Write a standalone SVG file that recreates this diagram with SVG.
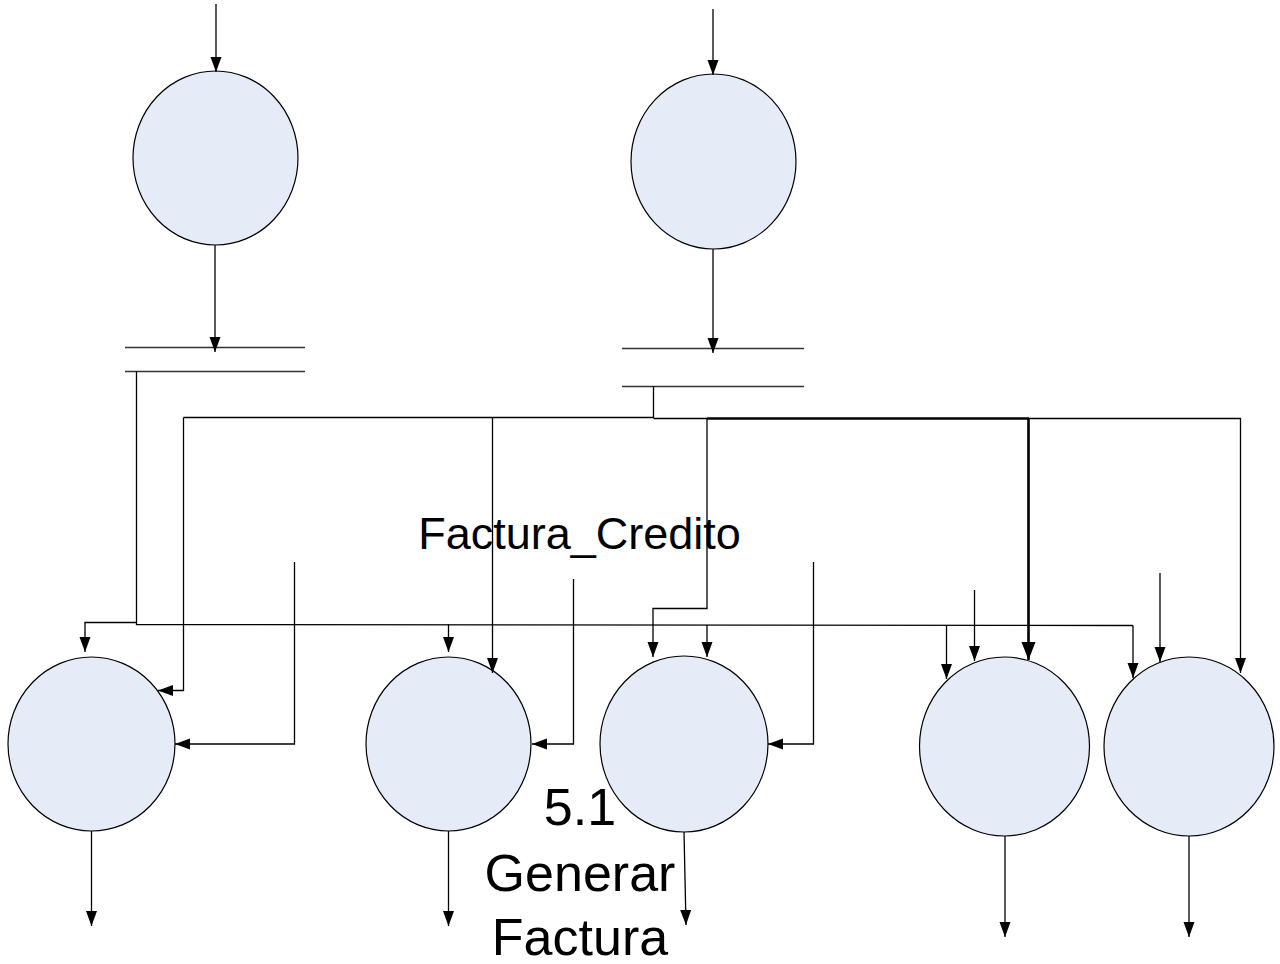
<svg xmlns="http://www.w3.org/2000/svg" width="1280" height="964" viewBox="0 0 1280 964">
  <style>
    .proc { fill: #e6ecf7; stroke: #000; stroke-width: 1.2; }
    .store { stroke: #333; stroke-width: 1.5; fill: none; }
    .flow { stroke: #000; stroke-width: 1.3; fill: none; }
    .flow-arrow { stroke: #000; stroke-width: 1.3; fill: none; marker-end: url(#arrow); }
    .flow-bold { stroke: #000; stroke-width: 2.6; fill: none; }
    .label { font-family: "Liberation Sans", Arial, sans-serif; fill: #000; text-anchor: middle; }
  </style>
  <defs>
    <marker id="arrow" markerUnits="userSpaceOnUse" markerWidth="16" markerHeight="12" refX="15" refY="5.5" orient="auto">
      <path d="M0,0 L15,5.5 L0,11 z" fill="#000"/>
    </marker>
    <marker id="arrow-bold" markerUnits="userSpaceOnUse" markerWidth="19" markerHeight="16" refX="18" refY="7" orient="auto">
      <path d="M0,0 L18,7 L0,14 z" fill="#000"/>
    </marker>
  </defs>

  <rect width="1280" height="964" fill="#fff"/>

  <!-- processes -->
  <g id="proc-top-left"><ellipse class="proc" cx="215.5" cy="158" rx="82.5" ry="87"/></g>
  <g id="proc-top-right"><ellipse class="proc" cx="713.5" cy="161.5" rx="82.5" ry="87.5"/></g>
  <g id="proc-1"><ellipse class="proc" cx="91.5" cy="744" rx="83.5" ry="87"/></g>
  <g id="proc-2"><ellipse class="proc" cx="448.5" cy="744" rx="82.5" ry="87"/></g>
  <g id="proc-3"><ellipse class="proc" cx="684" cy="744" rx="84" ry="88"/></g>
  <g id="proc-4"><ellipse class="proc" cx="1004.5" cy="746.5" rx="85" ry="89.5"/></g>
  <g id="proc-5"><ellipse class="proc" cx="1189" cy="746.5" rx="85" ry="89.5"/></g>

  <!-- data stores -->
  <g id="store-left">
    <line class="store" x1="125" y1="347.5" x2="305" y2="347.5"/>
    <line class="store" x1="125" y1="371.5" x2="305" y2="371.5"/>
  </g>
  <g id="store-right">
    <line class="store" x1="622" y1="348.5" x2="804" y2="348.5"/>
    <line class="store" x1="622" y1="386.5" x2="804" y2="386.5"/>
  </g>

  <!-- connectors -->
  <g id="connectors">
    <!-- inputs to the upper processes -->
    <line class="flow-arrow" x1="216" y1="4" x2="216" y2="72"/>
    <line class="flow-arrow" x1="713" y1="9" x2="713" y2="75"/>
    <!-- upper processes to stores -->
    <line class="flow-arrow" x1="215" y1="245" x2="215" y2="352"/>
    <line class="flow-arrow" x1="713" y1="249" x2="713" y2="353"/>

    <!-- left store distribution bus -->
    <polyline class="flow" points="136.5,371.5 136.5,624.5 1133,625.5"/>
    <polyline class="flow-arrow" points="136.5,622.5 85,622.5 85,652"/>
    <line class="flow-arrow" x1="448.5" y1="624.5" x2="448.5" y2="652"/>
    <line class="flow-arrow" x1="707" y1="625" x2="707" y2="657"/>
    <line class="flow-arrow" x1="946.5" y1="625.5" x2="946.5" y2="679"/>
    <line class="flow-arrow" x1="1133" y1="625.5" x2="1133" y2="678"/>

    <!-- right store distribution -->
    <polyline class="flow" points="653.5,386.5 653.5,417.5 183.5,417.5"/>
    <polyline class="flow-arrow" points="183.5,417.5 183.5,690.5 158,690.5"/>
    <line class="flow-arrow" x1="492.5" y1="417.5" x2="492.5" y2="673"/>
    <line class="flow" x1="653.5" y1="418.5" x2="707" y2="418.5"/>
    <polyline class="flow-arrow" points="707,418.5 707,608.5 653,608.5 653,657"/>
    <line class="flow-bold" x1="707" y1="418.5" x2="1029" y2="418.5"/>
    <line class="flow-bold" x1="1028.5" y1="418.5" x2="1028.5" y2="660" marker-end="url(#arrow-bold)"/>
    <polyline class="flow-arrow" points="1028,418.5 1240.5,418.5 1240.5,673"/>

    <!-- external inputs -->
    <polyline class="flow-arrow" points="294.5,562 294.5,744 175,744"/>
    <polyline class="flow-arrow" points="573.5,579 573.5,744 532,744"/>
    <polyline class="flow-arrow" points="813.5,562 813.5,744 768,744"/>
    <line class="flow-arrow" x1="974.5" y1="590" x2="974.5" y2="661"/>
    <line class="flow-arrow" x1="1160" y1="573" x2="1160" y2="662"/>

    <!-- outputs -->
    <line class="flow-arrow" x1="91.5" y1="831" x2="91.5" y2="926"/>
    <line class="flow-arrow" x1="448.5" y1="831" x2="448.5" y2="926"/>
    <line class="flow-arrow" x1="684" y1="832" x2="686" y2="925"/>
    <line class="flow-arrow" x1="1005" y1="836" x2="1005" y2="937"/>
    <line class="flow-arrow" x1="1189" y1="836" x2="1189" y2="937"/>
  </g>

  <!-- labels -->
  <g id="labels">
    <text class="label" x="579.5" y="549" font-size="45">Factura_Credito</text>
    <text class="label" x="580" y="825" font-size="52">5.1</text>
    <text class="label" x="580" y="891" font-size="52">Generar</text>
    <text class="label" x="580" y="955" font-size="52">Factura</text>
  </g>
</svg>
